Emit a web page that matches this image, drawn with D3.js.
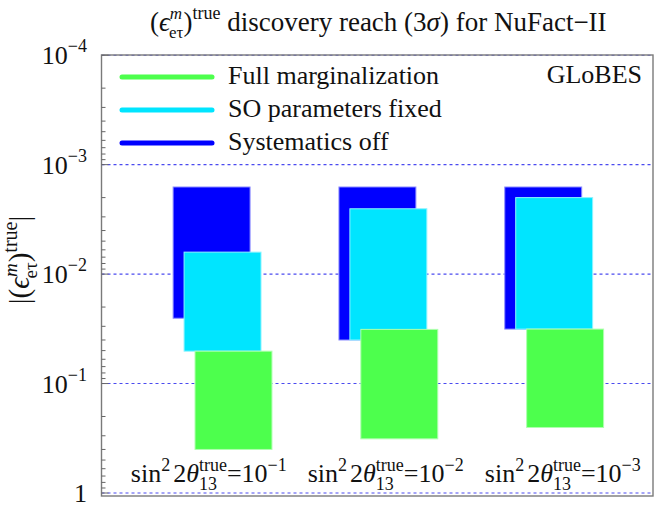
<!DOCTYPE html>
<html>
<head>
<meta charset="utf-8">
<script src="https://cdn.jsdelivr.net/npm/d3@7/dist/d3.min.js"></script>
<style>
  html, body { margin: 0; padding: 0; background: #fff; }
  svg text { font-family: "Liberation Serif", "DejaVu Serif", serif; fill: #111; }
</style>
</head>
<body>
<svg id="chart" width="654" height="523"></svg>
<script>
// ---------- data ----------
const theta13Exponents = [-1, -2, -3];           // sin^2 2theta13 = 10^e
const seriesNames = ["Full marginalization", "SO parameters fixed", "Systematics off"];
const seriesColors = ["#4dff4d", "#00e5ff", "#0000ff"];
// reach ranges |eps| (low, high) per theta13 case
const fullMargLow  = [0.0506, 0.032, 0.0318];
const fullMargHigh = [0.40, 0.32, 0.252];
const soFixedLow   = [0.0063, 0.00253, 0.0020];
const soFixedHigh  = [0.0506, 0.040, 0.0318];
const sysOffLow    = [0.0016, 0.0016, 0.0016];
const sysOffHigh   = [0.0253, 0.040, 0.0318];
const yTickExponents = [-4, -3, -2, -1, 0];

// ---------- layout ----------
const svg = d3.select("#chart");
const L = 101.5, R = 653, T = 55, B = 496;
const x = d3.scaleLinear().domain([0.27, 3.596]).range([L, R]);
const y = d3.scaleLog().domain([1e-4, 1]).range([55.2, 493]);
const barW = 0.464, offs = [0.066, 0, -0.066]; // by series index (full, so, sys)

const FS = 26;

// gridlines
svg.append("g").selectAll("line").data(yTickExponents).join("line")
  .attr("x1", L).attr("x2", R)
  .attr("y1", d => y(Math.pow(10, d))).attr("y2", d => y(Math.pow(10, d)))
  .attr("stroke", "#4a4af0").attr("stroke-width", 1.1).attr("stroke-dasharray", "3,3");

// bars: draw systematics off, then SO fixed, then full
const series = [
  {name: seriesNames[2], color: seriesColors[2], low: sysOffLow, high: sysOffHigh, off: offs[2]},
  {name: seriesNames[1], color: seriesColors[1], low: soFixedLow, high: soFixedHigh, off: offs[1]},
  {name: seriesNames[0], color: seriesColors[0], low: fullMargLow, high: fullMargHigh, off: offs[0]}
];
series.forEach(s => {
  svg.append("g").selectAll("rect").data(theta13Exponents.map((e, i) => ({i, lo: s.low[i], hi: s.high[i]})))
    .join("rect")
    .attr("x", d => x(d.i + 1 + s.off - barW / 2))
    .attr("width", d => x(d.i + 1 + s.off + barW / 2) - x(d.i + 1 + s.off - barW / 2))
    .attr("y", d => y(d.lo))
    .attr("height", d => y(d.hi) - y(d.lo))
    .attr("fill", s.color)
    .attr("stroke", d3.interpolateRgb(s.color, "#ffffff")(0.55))
    .attr("stroke-width", 1);
});

// frame
svg.append("rect").attr("x", L).attr("y", T).attr("width", R - L).attr("height", B - T)
  .attr("fill", "none").attr("stroke", "#7a7a7a").attr("stroke-width", 1.4);

// y axis ticks (inside, left only)
const minor = [];
for (let k = -4; k < 0; k++) for (let m = 2; m <= 9; m++) minor.push(m * Math.pow(10, k));
svg.append("g").selectAll("line").data(minor).join("line")
  .attr("x1", L).attr("x2", L + 4).attr("y1", d => y(d)).attr("y2", d => y(d))
  .attr("stroke", "#666").attr("stroke-width", 1);
svg.append("g").selectAll("line").data(yTickExponents).join("line")
  .attr("x1", L).attr("x2", L + 7).attr("y1", d => y(Math.pow(10, d))).attr("y2", d => y(Math.pow(10, d)))
  .attr("stroke", "#666").attr("stroke-width", 1);

// y tick labels
const yl = svg.append("g").selectAll("text").data(yTickExponents).join("text")
  .attr("x", 87).attr("y", d => y(Math.pow(10, d)) + 9)
  .attr("text-anchor", "end").style("font-size", FS + "px");
yl.each(function(d) {
  const t = d3.select(this);
  if (d === 0) { t.text("1"); return; }
  t.append("tspan").text("10");
  t.append("tspan").attr("dy", -12).style("font-size", "18px").text("\u2212" + (-d));
});

// helper for rich text
function rich(t, parts) {
  parts.forEach(p => {
    const ts = t.append("tspan").text(p.t);
    if (p.dy) ts.attr("dy", p.dy);
    if (p.dx) ts.attr("dx", p.dx);
    if (p.fs) ts.style("font-size", p.fs + "px");
    if (p.it) ts.style("font-style", "italic");
  });
}

// title
const title = svg.append("text").attr("x", (L + R) / 2 + 1).attr("y", 31).attr("text-anchor", "middle")
  .style("font-size", "27px");
rich(title, [
  {t: "("},
  {t: "\u03F5", it: true},
  {t: "m", it: true, fs: 17, dy: -12},
  {t: "e\u03C4", fs: 17, dy: 19, dx: -13},
  {t: ")", dy: -7},
  {t: "true", fs: 18, dy: -12},
  {t: " discovery reach (3", dy: 12},
  {t: "\u03C3", it: true},
  {t: ") for NuFact\u2212II"}
]);

// y-axis label
const ylab = svg.append("text").attr("transform", "translate(29,260) rotate(-90)")
  .attr("text-anchor", "middle").style("font-size", "29px");
rich(ylab, [
  {t: "|("},
  {t: "\u03F5", it: true},
  {t: "m", it: true, fs: 19, dy: -12},
  {t: "e\u03C4", fs: 19, dy: 20, dx: -15},
  {t: ")", dy: -8},
  {t: "true", fs: 20, dy: -12},
  {t: "|", dy: 12}
]);

// category labels inside plot
const labelPos = [0.917, 1.984, 3.052];
svg.append("g").selectAll("text").data(theta13Exponents).join("text")
  .attr("x", (d, i) => x(labelPos[i])).attr("y", 482).attr("text-anchor", "middle")
  .style("font-size", FS + "px")
  .each(function(d) {
    rich(d3.select(this), [
      {t: "sin"},
      {t: "2", fs: 18, dy: -11},
      {t: "2", dy: 11, dx: 3},
      {t: "\u03B8", it: true},
      {t: "true", fs: 18, dy: -11},
      {t: "13", fs: 18, dy: 19, dx: -28},
      {t: "=10", dy: -8, dx: 10},
      {t: "\u2212" + (-d), fs: 18, dy: -11}
    ]);
  });

// legend
const lg = svg.append("g");
seriesNames.forEach((n, i) => {
  const yy = 77 + i * 33;
  lg.append("line").attr("x1", 122).attr("x2", 212).attr("y1", yy).attr("y2", yy)
    .attr("stroke", seriesColors[i]).attr("stroke-width", 5).attr("stroke-linecap", "round");
  lg.append("text").attr("x", 228).attr("y", yy + 7).style("font-size", FS + "px").text(n);
});

// GLoBES
svg.append("text").attr("x", 642).attr("y", 83).attr("text-anchor", "end")
  .style("font-size", FS + "px").text("GLoBES");
</script>
</body>
</html>
